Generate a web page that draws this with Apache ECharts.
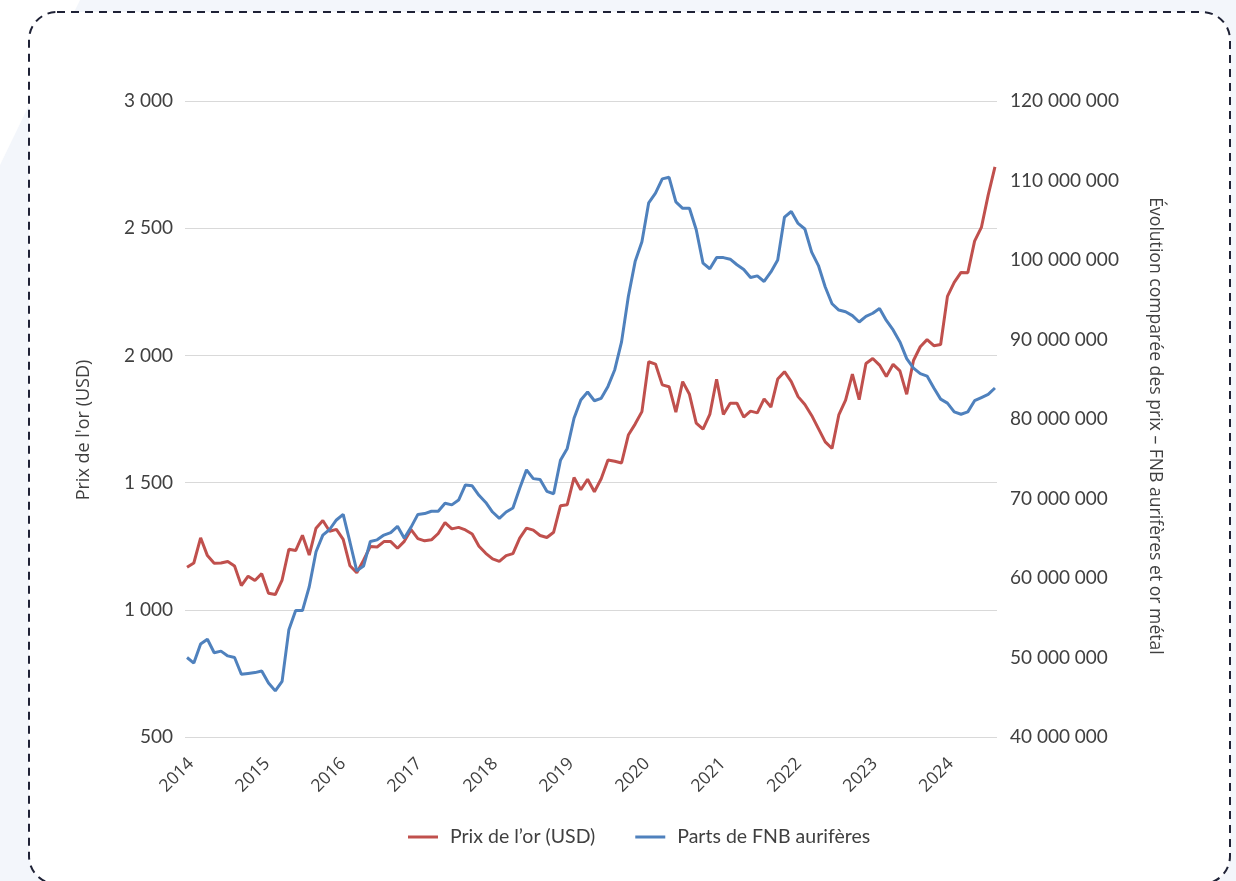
<!DOCTYPE html>
<html>
<head>
<meta charset="utf-8">
<script src="https://cdn.jsdelivr.net/npm/echarts@6/dist/echarts.min.js"></script>
<style>
html,body{margin:0;padding:0;background:#ffffff;}
#chart{width:1236px;height:881px;}
</style>
</head>
<body>
<div id="chart"></div>
<script>
// Year tick labels on the time axis
const yearLabels = ['2014','2015','2016','2017','2018','2019','2020','2021','2022','2023','2024'];

// Series names
const seriesNames = ['Prix de l’or (USD)', 'Parts de FNB aurifères'];

// Gold price, month-end (USD), 120 monthly points
const goldPrice = [
  1167, 1184,
  1283, 1213, 1183, 1184, 1190, 1172, 1095, 1132, 1115, 1142, 1065, 1060,
  1117, 1238, 1233, 1293, 1215, 1321, 1351, 1309, 1316, 1277, 1173, 1146,
  1195, 1249, 1247, 1268, 1268, 1242, 1269, 1315, 1280, 1271, 1275, 1300,
  1343, 1318, 1324, 1314, 1298, 1250, 1222, 1200, 1190, 1213, 1221, 1282,
  1321, 1313, 1292, 1284, 1305, 1409, 1413, 1520, 1472, 1513, 1464, 1515,
  1589, 1584, 1577, 1687, 1730, 1779, 1975, 1966, 1884, 1877, 1777, 1897,
  1847, 1734, 1710, 1768, 1906, 1768, 1812, 1812, 1757, 1781, 1774, 1829,
  1797, 1907, 1936, 1897, 1838, 1807, 1764, 1712, 1660, 1634, 1766, 1824,
  1926, 1826, 1968, 1988, 1962, 1917, 1965, 1939, 1847, 1980, 2034, 2062,
  2038, 2043, 2232, 2287, 2326, 2325, 2449, 2503, 2630, 2741
];

// Gold ETF shares (millions), 120 monthly points
const etfSharesMillions = [
  50.0, 49.3, 51.7, 52.3, 50.6, 50.8, 50.2, 50.0, 47.9, 48.0,
  48.1, 48.3, 46.8, 45.8, 47.0, 53.5, 55.9, 55.9, 58.9, 63.3,
  65.4, 66.1, 67.3, 68.0, 64.5, 60.9, 61.5, 64.6, 64.8, 65.4,
  65.7, 66.5, 65.0, 66.4, 68.0, 68.1, 68.4, 68.4, 69.4, 69.2,
  69.8, 71.7, 71.6, 70.4, 69.5, 68.3, 67.5, 68.3, 68.8, 71.3,
  73.6, 72.5, 72.4, 70.9, 70.6, 74.8, 76.3, 80.1, 82.4, 83.4,
  82.3, 82.6, 84.1, 86.2, 89.7, 95.4, 99.8, 102.3, 107.2, 108.4,
  110.2, 110.4, 107.3, 106.5, 106.5, 103.8, 99.6, 98.9, 100.3, 100.3,
  100.1, 99.4, 98.8, 97.8, 98.0, 97.3, 98.5, 100.0, 105.4, 106.1,
  104.6, 103.9, 101.0, 99.3, 96.6, 94.5, 93.7, 93.5, 93.0, 92.2,
  92.9, 93.3, 93.9, 92.4, 91.2, 89.7, 87.6, 86.4, 85.7, 85.4,
  83.9, 82.5, 82.0, 80.9, 80.6, 80.9, 82.3, 82.7, 83.1, 83.9
];

const leftAxisTitle = "Prix de l'or (USD)";
const rightAxisTitle = 'Évolution comparée des prix – FNB aurifères et or métal';

function fmtThousands(v) {
  return String(Math.round(v)).replace(/\B(?=(\d{3})+(?!\d))/g, ' ');
}

// layout helpers (positions, not data)
const yearStep = 11.19;
const yearOffset = 0.6;
const yearTickPos = yearLabels.map((_, k) => yearOffset + k * yearStep);

const chart = echarts.init(document.getElementById('chart'), null, { renderer: 'canvas' });

const labelColor = '#404040';

chart.setOption({
  animation: false,
  backgroundColor: '#ffffff',
  graphic: [
    {
      type: 'polygon', z: -10, silent: true,
      shape: { points: [[80, 0], [1236, 0], [1236, 881], [0, 881], [0, 165]] },
      style: { fill: '#f3f6fb' }
    },
    {
      type: 'rect', z: -5, silent: true,
      shape: { x: 29, y: 12, width: 1201, height: 872, r: 28 },
      style: { fill: '#ffffff', stroke: '#1f2236', lineWidth: 2, lineDash: [8, 6] }
    },
    {
      type: 'text', silent: true,
      x: 84, y: 430, rotation: Math.PI / 2,
      style: { text: leftAxisTitle, x: 0, y: 0, textAlign: 'center', textVerticalAlign: 'middle',
               font: '18px "Open Sans", sans-serif', fill: labelColor }
    },
    {
      type: 'text', silent: true,
      x: 1155, y: 426, rotation: -Math.PI / 2,
      style: { text: rightAxisTitle, x: 0, y: 0, textAlign: 'center', textVerticalAlign: 'middle',
               font: '17.6px "Open Sans", sans-serif', fill: labelColor }
    }
  ],
  grid: { left: 185, right: 239, top: 101, bottom: 144, containLabel: false },
  legend: {
    left: 408, top: 827, padding: 0,
    itemWidth: 30, itemHeight: 3, itemGap: 40,
    icon: 'rect',
    textStyle: { fontFamily: 'Lato', fontSize: 19.5, color: labelColor, padding: [0, 0, 0, 7] },
    data: seriesNames
  },
  xAxis: {
    type: 'value',
    min: -0.3, max: 119.3,
    axisLine: { show: false },
    axisTick: { show: false },
    splitLine: { show: false },
    axisLabel: {
      customValues: yearTickPos,
      rotate: 45,
      margin: 24,
      color: labelColor,
      fontFamily: 'Open Sans',
      fontSize: 17.5,
      formatter: function (v) {
        const k = Math.round((v - yearOffset) / yearStep);
        return yearLabels[k] || '';
      }
    }
  },
  yAxis: [
    {
      type: 'value', min: 500, max: 3000, interval: 500,
      axisLine: { show: false }, axisTick: { show: false },
      splitLine: { lineStyle: { color: '#d9d9d9', width: 1 } },
      axisLabel: { color: labelColor, fontFamily: 'Lato', fontSize: 19, margin: 12,
                   formatter: v => fmtThousands(v) }
    },
    {
      type: 'value', min: 40, max: 120, interval: 10, position: 'right',
      axisLine: { show: false }, axisTick: { show: false },
      splitLine: { show: false },
      axisLabel: { color: labelColor, fontFamily: 'Lato', fontSize: 19, margin: 13,
                   formatter: v => fmtThousands(v * 1000000) }
    }
  ],
  series: [
    {
      name: seriesNames[0], type: 'line', yAxisIndex: 0,
      symbol: 'none', smooth: false,
      lineStyle: { width: 3, color: '#C0504D' }, itemStyle: { color: '#C0504D' },
      data: goldPrice.map((v, i) => [i, v])
    },
    {
      name: seriesNames[1], type: 'line', yAxisIndex: 1,
      symbol: 'none', smooth: false,
      lineStyle: { width: 3, color: '#4F81BD' }, itemStyle: { color: '#4F81BD' },
      data: etfSharesMillions.map((v, i) => [i, v])
    }
  ]
});
</script>
</body>
</html>
